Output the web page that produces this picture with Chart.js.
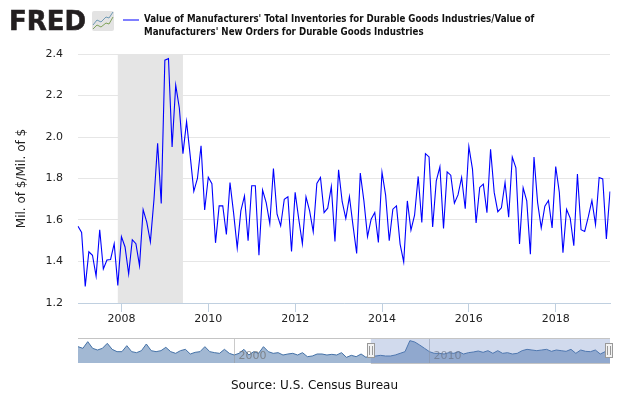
<!DOCTYPE html>
<html>
<head>
<meta charset="utf-8">
<style>
body{margin:0;background:#fff;}
#pagina{position:relative;width:630px;height:396px;overflow:hidden;font-family:"DejaVu Sans",sans-serif;}
canvas{position:absolute;left:0;}
#logo{position:absolute;left:9px;top:6px;font-weight:bold;font-size:26px;color:#231f20;line-height:30px;-webkit-text-stroke:0.6px #231f20;}
#icono{position:absolute;left:92px;top:11px;}
#linea{position:absolute;left:123px;top:19px;width:16px;height:2px;background:#7f7fff;}
#leyenda{position:absolute;left:144px;top:12px;font-family:"DejaVu Sans Condensed","DejaVu Sans",sans-serif;font-stretch:condensed;font-weight:bold;font-size:10.5px;line-height:13px;color:#111;white-space:nowrap;transform:scaleX(0.92);transform-origin:left top;}
#fuente{position:absolute;left:0;width:629px;top:378px;text-align:center;font-size:12px;color:#111;}
</style>
</head>
<body>
<div id="pagina">
<canvas id="principal" width="630" height="396" style="top:0"></canvas>
<canvas id="navegador" width="630" height="66" style="top:330px"></canvas>
<div id="logo">FRED</div>
<svg id="icono" width="22" height="20">
<rect x="0" y="0" width="22" height="20" rx="2" fill="#e3e3e3"/>
<polyline points="1,14 5,9 9,11 14,6 17,7 21,1" fill="none" stroke="#6f9ab5" stroke-width="1"/>
<polyline points="1,18 5,14 9,16 14,12 17,13 21,6" fill="none" stroke="#7fa25a" stroke-width="1"/>
</svg>
<div id="linea"></div>
<div id="leyenda">Value of Manufacturers' Total Inventories for Durable Goods Industries/Value of<br>Manufacturers' New Orders for Durable Goods Industries</div>
<div id="fuente">Source: U.S. Census Bureau</div>
</div>
<script src="https://cdn.jsdelivr.net/npm/chart.js@4"></script>
<script>
// ratio mensual, ene 2007 - abr 2019
const valores = [1.57,1.54,1.28,1.447,1.43,1.33,1.553,1.364,1.407,1.41,1.486,1.285,
1.52,1.47,1.34,1.505,1.486,1.38,1.65,1.59,1.495,1.70,1.97,1.68,
2.37,2.378,1.952,2.25,2.14,1.92,2.074,1.91,1.738,1.80,1.958,1.648,
1.806,1.775,1.49,1.668,1.668,1.53,1.78,1.633,1.465,1.644,1.716,1.50,
1.765,1.765,1.43,1.744,1.684,1.583,1.848,1.628,1.572,1.70,1.712,1.448,
1.733,1.604,1.485,1.712,1.644,1.543,1.776,1.805,1.636,1.657,1.761,1.496,
1.842,1.688,1.607,1.713,1.572,1.439,1.826,1.692,1.52,1.604,1.636,1.492,
1.83,1.72,1.50,1.652,1.668,1.484,1.398,1.692,1.551,1.623,1.81,1.588,
1.92,1.904,1.567,1.789,1.856,1.559,1.832,1.816,1.681,1.721,1.805,1.654,
1.954,1.845,1.586,1.757,1.773,1.635,1.941,1.733,1.64,1.659,1.781,1.614,
1.903,1.851,1.485,1.755,1.692,1.435,1.903,1.684,1.562,1.667,1.694,1.562,
1.858,1.733,1.442,1.651,1.609,1.476,1.821,1.553,1.545,1.615,1.694,1.578,
1.805,1.798,1.509,1.737];
// navegador: un valor por trimestre, ene 1992 - abr 2019
const valoresNav = [1.98,1.88,2.28,1.88,1.78,1.88,2.18,1.82,1.68,1.68,2.04,1.68,1.62,1.74,2.14,1.74,1.68,1.74,1.94,1.68,
1.58,1.74,1.82,1.54,1.64,1.68,1.98,1.68,1.62,1.58,1.82,1.58,1.48,1.58,1.82,1.48,1.68,1.58,1.98,1.68,
1.58,1.62,1.48,1.54,1.58,1.48,1.62,1.38,1.42,1.54,1.54,1.48,1.52,1.48,1.62,1.34,1.46,1.38,1.54,1.34,
1.48,1.42,1.46,1.42,1.42,1.48,1.58,1.68,2.34,2.26,2.08,1.88,1.68,1.58,1.58,1.54,1.62,1.58,1.68,1.54,
1.62,1.66,1.72,1.64,1.74,1.58,1.74,1.58,1.62,1.54,1.58,1.74,1.82,1.78,1.74,1.78,1.82,1.70,1.78,1.74,
1.70,1.82,1.58,1.78,1.70,1.68,1.78,1.54,1.68,1.74];
const anioInicio = 2007;
const aniosNav = [2000,2010];
const ticksY = [1.2,1.4,1.6,1.8,2.0,2.2,2.4];
const recesion = ["2007-12","2009-06"];
const ventanaNav = ["2007-01","2019-04"];

function generarFechas(anio,mes,n,paso){
    let fechas = [];
    for(let i=0;i<n;i++){
        let total = (anio*12)+(mes-1)+(i*paso);
        let m = (total%12)+1;
        fechas.push(Math.floor(total/12)+"-"+(m<10 ? "0"+m : m));
    }
    return fechas;
}
const fechas = generarFechas(anioInicio,1,valores.length,1);
const fechasNav = generarFechas(1992,1,valoresNav.length,3);

const sombra = {
    id:"sombra",
    beforeDatasetsDraw(chart){
        const ctx = chart.ctx;
        const x1 = chart.scales.x.getPixelForValue(fechas.indexOf(recesion[0]));
        const x2 = chart.scales.x.getPixelForValue(fechas.indexOf(recesion[1]));
        ctx.save();
        ctx.fillStyle = "#e5e5e5";
        ctx.fillRect(x1,chart.chartArea.top,x2-x1,chart.chartArea.bottom-chart.chartArea.top);
        ctx.restore();
    }
};

const principal = new Chart(document.getElementById("principal"),{
    type:"line",
    data:{
        labels:fechas,
        datasets:[{data:valores,borderColor:"#0000ff",borderWidth:1.1,pointRadius:0,tension:0,fill:false}]
    },
    plugins:[sombra],
    options:{
        responsive:false,
        animation:false,
        layout:{padding:{top:54,right:20,left:0,bottom:0}},
        plugins:{legend:{display:false},title:{display:false},tooltip:{enabled:false}},
        scales:{
            x:{
                offset:false,
                border:{color:"#C0D0E0"},
                grid:{drawOnChartArea:false,drawTicks:true,tickLength:9,tickColor:"#C0D0E0"},
                ticks:{autoSkip:false,maxRotation:0,padding:1,color:"#222",font:{family:"DejaVu Sans",size:11},
                    callback:function(v){return this.getLabelForValue(v).slice(0,4);}},
                afterBuildTicks(scale){
                    scale.ticks = scale.ticks.filter(t=>{
                        let f = fechas[t.value];
                        return f.endsWith("-01") && Number(f.slice(0,4))%2==0;
                    });
                },
                afterFit(scale){scale.height = 93;}
            },
            y:{
                min:1.2,max:2.4,
                border:{display:false},
                grid:{color:"#e6e6e6",drawTicks:false},
                afterBuildTicks(scale){scale.ticks = ticksY.map(v=>({value:v}));},
                ticks:{padding:15,color:"#222",font:{family:"DejaVu Sans",size:11},callback:v=>v.toFixed(1)},
                title:{display:true,text:"Mil. of $/Mil. of $",color:"#222",font:{family:"DejaVu Sans",size:12},padding:{top:15,bottom:0}},
                afterFit(scale){scale.width = 78;}
            }
        }
    }
});

const marcas = {
    id:"marcas",
    afterDraw(chart){
        const ctx = chart.ctx;
        const a = chart.chartArea;
        const escala = chart.scales.x;
        ctx.save();
        // lineas y etiquetas de los anios
        aniosNav.forEach(anio=>{
            let i = fechasNav.indexOf(anio+"-01");
            let x = Math.round(escala.getPixelForValue(i))+0.5;
            ctx.strokeStyle = "rgba(150,150,150,0.5)";
            ctx.beginPath();ctx.moveTo(x,a.top);ctx.lineTo(x,a.bottom);ctx.stroke();
            ctx.fillStyle = "rgba(110,110,110,0.7)";
            ctx.font = "11px 'DejaVu Sans'";
            ctx.textBaseline = "alphabetic";
            ctx.fillText(String(anio),x+4,a.top+21);
        });
        // ventana seleccionada
        let x1 = escala.getPixelForValue(fechasNav.indexOf(ventanaNav[0]));
        let x2 = escala.getPixelForValue(fechasNav.indexOf(ventanaNav[1]));
        ctx.fillStyle = "rgba(102,133,194,0.3)";
        ctx.fillRect(x1,a.top,x2-x1,a.bottom-a.top);
        ctx.strokeStyle = "#c4c4c4";
        ctx.beginPath();ctx.moveTo(a.left,a.top+0.5);ctx.lineTo(x2,a.top+0.5);ctx.stroke();
        ctx.beginPath();ctx.moveTo(x1,a.bottom+0.5);ctx.lineTo(x2,a.bottom+0.5);ctx.stroke();
        // agarraderas
        [x1,x2-1].forEach(x=>{
            let cx = Math.round(x);
            ctx.fillStyle = "#f2f2f2";
            ctx.strokeStyle = "#999";
            ctx.fillRect(cx-4,a.top+5,8,15);
            ctx.strokeRect(cx-3.5,a.top+5.5,7,14);
            ctx.beginPath();
            ctx.moveTo(cx-1.5,a.top+8);ctx.lineTo(cx-1.5,a.top+17);
            ctx.moveTo(cx+1.5,a.top+8);ctx.lineTo(cx+1.5,a.top+17);
            ctx.stroke();
        });
        ctx.restore();
    }
};

const navegador = new Chart(document.getElementById("navegador"),{
    type:"line",
    data:{
        labels:fechasNav,
        datasets:[{data:valoresNav,borderColor:"#4572A7",backgroundColor:"rgba(69,114,167,0.5)",borderWidth:1,pointRadius:0,tension:0,fill:"start"}]
    },
    plugins:[marcas],
    options:{
        responsive:false,
        animation:false,
        layout:{padding:{top:8,right:20,left:78,bottom:33}},
        plugins:{legend:{display:false},title:{display:false},tooltip:{enabled:false}},
        scales:{
            x:{display:false,offset:false},
            y:{display:false,min:1,max:2.5}
        }
    }
});
</script>
</body>
</html>
